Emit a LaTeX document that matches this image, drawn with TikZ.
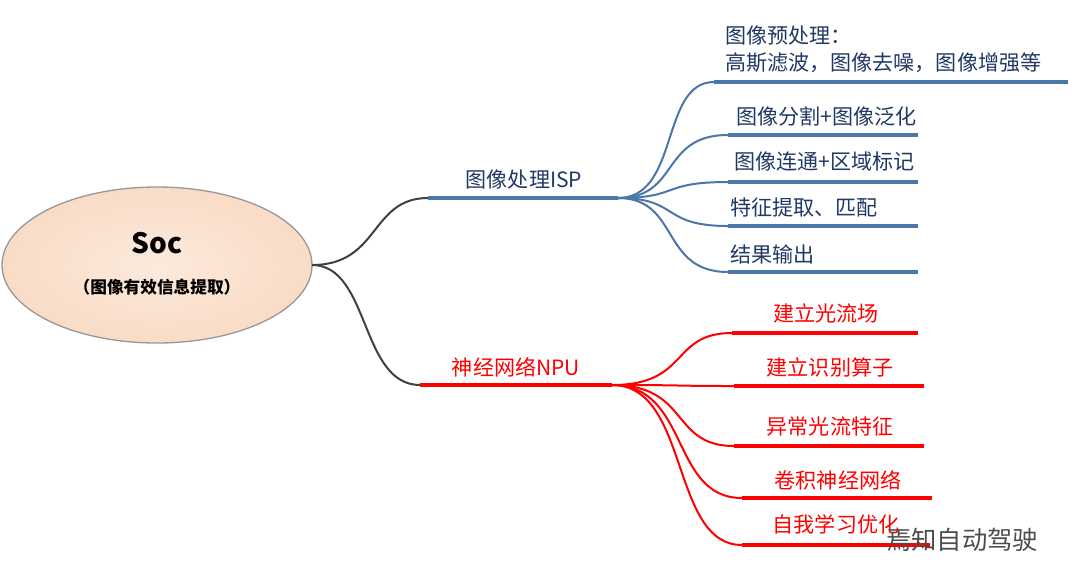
\documentclass[tikz,border=0pt]{standalone}
\usepackage{fontspec}
\setmainfont{Noto Sans CJK SC}
\usetikzlibrary{shapes.geometric}
\begin{document}
\begin{tikzpicture}[x=0.75pt,y=-0.75pt,
  ispc/.style={draw=ispblue, line width=1.5pt},
  npu/.style={draw=red, line width=3pt},
  npuc/.style={draw=red, line width=1.5pt},
  tb/.style={text=txtblue, font=\fontsize{15.8}{17}\selectfont, inner sep=0pt},
  tr/.style={text=red, font=\fontsize{15.8}{17}\selectfont, inner sep=0pt}]
\definecolor{ispblue}{HTML}{4A76A8}
\definecolor{txtblue}{HTML}{1F3864}
\definecolor{peach}{HTML}{F9DCC6}
\definecolor{trunk}{HTML}{404040}
\useasboundingbox (0,0) rectangle (1080,587);
% root
\node[ellipse, draw=gray!80, line width=1pt, inner color=peach!60, outer color=peach, minimum width=232.5pt, minimum height=117pt] (root) at (157,265) {};
\node[font=\fontsize{21}{22}\selectfont\bfseries] (soc) at (157,243) {Soc};
\node[font=\fontsize{12.5}{14}\selectfont\bfseries] (sub) at (157,287) {（图像有效信息提取）};
\coordinate (r) at (312,265);
% ISP
\coordinate (ia) at (428,198); \coordinate (ib) at (618,198);
\draw[trunk, line width=1.5pt] (r) .. controls (380,265) and (370,198) .. (ia);
\draw[draw=ispblue, line width=3pt] (ia) -- (ib);
\node[tb] (il) at (524,180) {图像处理ISP};
\foreach \n/\x/\e/\y in {1/714/1068/82, 2/728/918/135, 3/728/918/182, 4/728/918/226, 5/728/918/272}{
  \coordinate (s\n) at (\x,\y); \coordinate (e\n) at (\e,\y);
  \draw[ispc] (ib) .. controls (680,198) and (660,\y) .. (s\n);
  \draw[draw=ispblue, line width=3pt] (s\n) -- (e\n);
}
\node[tb, anchor=west, align=left] (t1) at (725,49) {图像预处理：\\[3pt]高斯滤波，图像去噪，图像增强等};
\node[tb, anchor=west] (t2) at (736,116) {图像分割+图像泛化};
\node[tb, anchor=west] (t3) at (734,162) {图像连通+区域标记};
\node[tb, anchor=west] (t4) at (730,207) {特征提取、匹配};
\node[tb, anchor=west] (t5) at (730,254) {结果输出};
% NPU
\coordinate (na) at (420,385); \coordinate (nb) at (612,385);
\draw[trunk, line width=1.5pt] (r) .. controls (370,265) and (360,385) .. (na);
\draw[npu] (na) -- (nb);
\node[tr] (nl) at (516,367) {神经网络NPU};
\foreach \n/\x/\e/\y in {1/732/918/333, 2/734/924/386, 3/734/924/446, 4/742/932/498, 5/742/930/545}{
  \coordinate (m\n) at (\x,\y); \coordinate (f\n) at (\e,\y);
  \draw[npuc] (nb) .. controls (690,385) and (670,\y) .. (m\n);
  \draw[npu] (m\n) -- (f\n);
}
\node[tr] (u1) at (826,313) {建立光流场};
\node[tr] (u2) at (830,367) {建立识别算子};
\node[tr] (u3) at (830,427) {异常光流特征};
\node[tr] (u4) at (838,480) {卷积神经网络};
\node[tr] (u5) at (836,524) {自我学习优化};
\node[text=gray!60!black, font=\fontsize{19}{20}\selectfont, inner sep=0pt] (wm) at (962,540) {焉知自动驾驶};
\end{tikzpicture}
\end{document}
